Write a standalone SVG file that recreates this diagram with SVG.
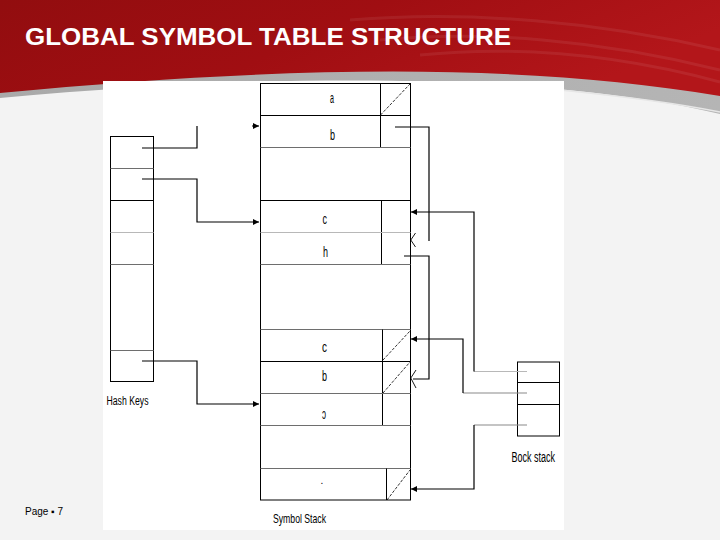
<svg xmlns="http://www.w3.org/2000/svg" width="720" height="540" viewBox="0 0 720 540">
<defs>
<linearGradient id="red" x1="0" y1="0" x2="1" y2="0.3">
<stop offset="0" stop-color="#920d0f"/>
<stop offset="0.5" stop-color="#a00e12"/>
<stop offset="1" stop-color="#b3161a"/>
</linearGradient>
<linearGradient id="band" x1="0" y1="0" x2="1" y2="0">
<stop offset="0" stop-color="#a9a9a9"/>
<stop offset="1" stop-color="#b5b5b5"/>
</linearGradient>
<marker id="arr" markerWidth="7" markerHeight="6" refX="6" refY="3" orient="auto" markerUnits="userSpaceOnUse">
<path d="M0,0 L6,3 L0,6 z" fill="#000"/>
</marker>
<style>
.box{fill:none;stroke:#000;stroke-width:1}
.row{stroke:#000;stroke-width:1}
.g1{stroke:#6e6e6e;stroke-width:1.2}
.g2{stroke:#b8b8b8;stroke-width:1}
.dg{stroke:#000;stroke-width:0.8;stroke-dasharray:3 1.5;fill:none}
.cn{stroke:#000;stroke-width:1.2;fill:none}
.cg{stroke:#8a8a8a;stroke-width:1.2;fill:none}
.cl{stroke:#b8b8b8;stroke-width:1.2;fill:none}
.chev{stroke:#000;stroke-width:0.9;fill:none}
.t{font-family:"Liberation Sans",Arial,sans-serif;fill:#000}
</style>
</defs>
<!-- background -->
<rect x="0" y="0" width="720" height="540" fill="#f3f3f3"/>
<path d="M0,0 H720 V114 C560,76 300,70 0,98 Z" fill="url(#band)"/>
<path d="M560,90 C620,96 680,104 720,112" stroke="#e6e6e6" stroke-width="1.5" fill="none"/>
<path d="M0,0 H720 V96 C520,62 280,66 0,93 Z" fill="url(#red)"/>
<g fill="none" stroke="#ffffff" stroke-opacity="0.07" stroke-width="3">
<path d="M380,40 C480,30 600,40 720,70"/>
<path d="M420,55 C520,45 620,55 720,82"/>
<path d="M350,20 C470,10 600,22 720,50"/>
</g>
<text x="25" y="45" class="t" font-size="23" font-weight="bold" fill="#fff" style="fill:#fff" textLength="486" lengthAdjust="spacingAndGlyphs">GLOBAL SYMBOL TABLE STRUCTURE</text>
<text x="25" y="515" class="t" font-size="10" textLength="38" lengthAdjust="spacingAndGlyphs">Page ▪ 7</text>
<!-- white panel -->
<rect x="103" y="81" width="461" height="449" fill="#fff"/>

<!-- hash keys -->
<g id="hash-keys">
<rect class="box" x="110.5" y="136.5" width="43" height="245"/>
<line class="g1" x1="110.5" y1="168.5" x2="153.5" y2="168.5"/>
<line class="row" x1="110.5" y1="200.5" x2="153.5" y2="200.5"/>
<line class="g2" x1="110.5" y1="232.5" x2="153.5" y2="232.5"/>
<line class="g1" x1="110.5" y1="264.5" x2="153.5" y2="264.5"/>
<line class="g1" x1="110.5" y1="350.5" x2="153.5" y2="350.5"/>
<text class="t" x="106.5" y="405" font-size="12" textLength="42" lengthAdjust="spacingAndGlyphs">Hash Keys</text>
</g>

<!-- symbol stack -->
<g id="symbol-stack">
<rect class="box" x="260.5" y="83.5" width="150" height="416.5"/>
<g id="entry-a">
<line class="row" x1="380.5" y1="83.5" x2="380.5" y2="147"/>
<line class="dg" x1="380.5" y1="115" x2="410" y2="84"/>
<text class="t" x="330" y="103" font-size="14" textLength="4" lengthAdjust="spacingAndGlyphs">a</text>
</g>
<line class="row" x1="260.5" y1="115.5" x2="410.5" y2="115.5"/>
<g id="entry-b1">
<text class="t" x="330" y="140" font-size="15" textLength="5" lengthAdjust="spacingAndGlyphs">b</text>
</g>
<line class="g1" x1="260.5" y1="147.5" x2="410.5" y2="147.5"/>
<line class="row" x1="260.5" y1="200.5" x2="410.5" y2="200.5"/>
<g id="entry-c1">
<line class="row" x1="381.5" y1="200.5" x2="381.5" y2="264.5"/>
<text class="t" x="322.5" y="224" font-size="14" textLength="4.5" lengthAdjust="spacingAndGlyphs">c</text>
</g>
<line class="g2" x1="260.5" y1="232.5" x2="410.5" y2="232.5"/>
<g id="entry-h">
<text class="t" x="323" y="256.5" font-size="15" textLength="5" lengthAdjust="spacingAndGlyphs">h</text>
</g>
<line class="g1" x1="260.5" y1="264.5" x2="410.5" y2="264.5"/>
<line class="g1" x1="260.5" y1="329.5" x2="410.5" y2="329.5"/>
<line class="row" x1="382.5" y1="329.5" x2="382.5" y2="425"/>
<g id="entry-c2">
<line class="dg" x1="383" y1="360" x2="410" y2="331"/>
<text class="t" x="322" y="351.5" font-size="14" textLength="5" lengthAdjust="spacingAndGlyphs">c</text>
</g>
<line class="row" x1="260.5" y1="361.5" x2="410.5" y2="361.5"/>
<g id="entry-b2">
<line class="dg" x1="383" y1="393" x2="410" y2="362"/>
<text class="t" x="322" y="380.5" font-size="14" textLength="5" lengthAdjust="spacingAndGlyphs">b</text>
</g>
<line class="g1" x1="260.5" y1="393.5" x2="410.5" y2="393.5"/>
<g id="entry-o">
<text class="t" x="322" y="418.5" font-size="14" textLength="4" lengthAdjust="spacingAndGlyphs">ɔ</text>
</g>
<line class="g1" x1="260.5" y1="425.5" x2="410.5" y2="425.5"/>
<line class="g1" x1="260.5" y1="468.5" x2="410.5" y2="468.5"/>
<g id="entry-last">
<line class="row" x1="386.5" y1="468.5" x2="386.5" y2="500"/>
<line class="dg" x1="387" y1="500" x2="410" y2="470"/>
<text class="t" x="320.5" y="484" font-size="10">.</text>
</g>
<text class="t" x="273" y="523" font-size="13" textLength="53" lengthAdjust="spacingAndGlyphs">Symbol Stack</text>
</g>

<!-- block stack -->
<g id="block-stack">
<rect class="box" x="517.5" y="362" width="42" height="74"/>
<line class="row" x1="517.5" y1="382.5" x2="559.5" y2="382.5"/>
<line class="row" x1="517.5" y1="404.5" x2="559.5" y2="404.5"/>
<text class="t" x="511.5" y="462" font-size="14" textLength="43.5" lengthAdjust="spacingAndGlyphs">Bock stack</text>
</g>

<!-- connectors -->
<g id="connectors">
<path class="cn" d="M142,148 H197 V126 M252,126 H259" marker-end="url(#arr)"/>
<path class="cn" d="M142,179 H197 V222 H259" marker-end="url(#arr)"/>
<path class="cn" d="M142,361 H197 V404 H259" marker-end="url(#arr)"/>
<path class="cn" d="M395,127 H429 V241"/>
<path class="chev" d="M415.5,233 L410.8,240 L415.5,247"/>
<path class="cn" d="M404,256 H429 V379 H413"/>
<path class="chev" d="M416,370 L410.8,378 L416,388"/>
<path class="cl" d="M527,371.5 H474"/>
<path class="cn" d="M474,371.5 V212 H411" marker-end="url(#arr)"/>
<path class="cg" d="M527,393 H463"/>
<path class="cn" d="M463,393 V339 H411" marker-end="url(#arr)"/>
<path class="cg" d="M527,425 H474"/>
<path class="cn" d="M474,425 V489 H411" marker-end="url(#arr)"/>
</g>
</svg>
